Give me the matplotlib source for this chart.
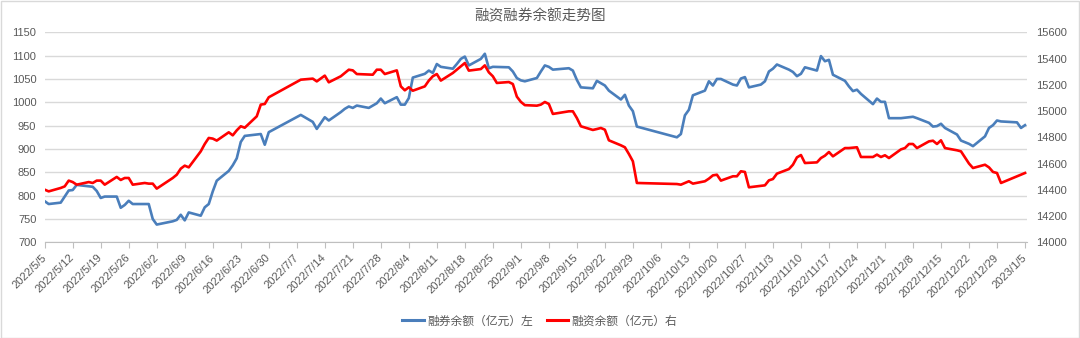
import matplotlib
matplotlib.use("Agg")
import matplotlib.pyplot as plt
import matplotlib.dates as mdates
from matplotlib.lines import Line2D
from matplotlib.patches import Rectangle
import pandas as pd

plt.rcParams['font.family'] = ['Liberation Sans', 'Noto Sans CJK SC', 'DejaVu Sans']

title = "融资融券余额走势图"
series_names = ["融券余额（亿元）左", "融资余额（亿元）右"]

# 融券余额 (left axis)
short_dates = [
    "2022-05-05", "2022-05-06", "2022-05-09", "2022-05-11", "2022-05-12", "2022-05-13",
    "2022-05-17", "2022-05-18", "2022-05-19", "2022-05-20", "2022-05-23", "2022-05-24",
    "2022-05-25", "2022-05-26", "2022-05-27", "2022-05-31", "2022-06-01", "2022-06-02",
    "2022-06-06", "2022-06-07", "2022-06-08", "2022-06-09", "2022-06-10", "2022-06-13",
    "2022-06-14", "2022-06-15", "2022-06-16", "2022-06-17", "2022-06-20", "2022-06-21",
    "2022-06-22", "2022-06-23", "2022-06-24", "2022-06-28", "2022-06-29", "2022-06-30",
    "2022-07-08", "2022-07-11", "2022-07-12", "2022-07-14", "2022-07-15", "2022-07-18",
    "2022-07-19", "2022-07-20", "2022-07-21", "2022-07-22", "2022-07-25", "2022-07-27",
    "2022-07-28", "2022-07-29", "2022-08-01", "2022-08-02", "2022-08-03", "2022-08-04",
    "2022-08-05", "2022-08-08", "2022-08-09", "2022-08-10", "2022-08-11", "2022-08-12",
    "2022-08-15", "2022-08-16", "2022-08-17", "2022-08-18", "2022-08-19", "2022-08-22",
    "2022-08-23", "2022-08-24", "2022-08-25", "2022-08-29", "2022-08-30", "2022-08-31",
    "2022-09-01", "2022-09-02", "2022-09-05", "2022-09-06", "2022-09-07", "2022-09-08",
    "2022-09-09", "2022-09-13", "2022-09-14", "2022-09-15", "2022-09-16", "2022-09-19",
    "2022-09-20", "2022-09-21", "2022-09-22", "2022-09-23", "2022-09-26", "2022-09-27",
    "2022-09-28", "2022-09-29", "2022-09-30", "2022-10-10", "2022-10-11", "2022-10-12",
    "2022-10-13", "2022-10-14", "2022-10-17", "2022-10-18", "2022-10-19", "2022-10-20",
    "2022-10-21", "2022-10-24", "2022-10-25", "2022-10-26", "2022-10-27", "2022-10-28",
    "2022-10-31", "2022-11-01", "2022-11-02", "2022-11-03", "2022-11-04", "2022-11-07",
    "2022-11-08", "2022-11-09", "2022-11-10", "2022-11-11", "2022-11-14", "2022-11-15",
    "2022-11-16", "2022-11-17", "2022-11-18", "2022-11-21", "2022-11-22", "2022-11-23",
    "2022-11-24", "2022-11-25", "2022-11-28", "2022-11-29", "2022-11-30", "2022-12-01",
    "2022-12-02", "2022-12-05", "2022-12-07", "2022-12-08", "2022-12-09", "2022-12-12",
    "2022-12-13", "2022-12-14", "2022-12-15", "2022-12-16", "2022-12-19", "2022-12-20",
    "2022-12-22", "2022-12-23", "2022-12-26", "2022-12-27", "2022-12-28", "2022-12-29",
    "2022-12-30", "2023-01-03", "2023-01-04", "2023-01-05",
]
short_values = [
    788, 782, 785, 811, 812, 823,
    819, 810, 795, 798, 798, 774,
    780, 789, 782, 782, 750, 738,
    745, 748, 759, 747, 764, 757,
    775, 782, 809, 832, 853, 865,
    880, 915, 928, 932, 909, 936,
    973, 958, 943, 968, 961, 979,
    986, 991, 988, 993, 988, 998,
    1008, 998, 1011, 995, 995, 1009,
    1053, 1061, 1068, 1063, 1082, 1076,
    1072, 1082, 1093, 1098, 1079, 1093,
    1104, 1073, 1076, 1075, 1066, 1052,
    1047, 1045, 1052, 1066, 1079, 1076,
    1070, 1073, 1068, 1048, 1032, 1030,
    1046, 1041, 1036, 1025, 1006, 1016,
    993, 981, 948, 925, 932, 972,
    984, 1015, 1025, 1045, 1036, 1050,
    1050, 1038, 1036, 1051, 1054, 1032,
    1038, 1045, 1066, 1072, 1081, 1070,
    1065, 1056, 1061, 1075, 1068, 1099,
    1088, 1091, 1059, 1046, 1034, 1024,
    1027, 1018, 996, 1008, 1001, 1001,
    966, 966, 968, 969, 966, 956,
    948, 949, 954, 945, 931, 918,
    911, 906, 927, 945, 951, 961,
    959, 957, 945, 951,
]

# 融资余额 (right axis)
margin_dates = [
    "2022-05-05", "2022-05-06", "2022-05-09", "2022-05-10", "2022-05-11", "2022-05-12",
    "2022-05-13", "2022-05-16", "2022-05-17", "2022-05-18", "2022-05-19", "2022-05-20",
    "2022-05-23", "2022-05-24", "2022-05-25", "2022-05-26", "2022-05-27", "2022-05-30",
    "2022-05-31", "2022-06-01", "2022-06-02", "2022-06-06", "2022-06-07", "2022-06-08",
    "2022-06-09", "2022-06-10", "2022-06-13", "2022-06-14", "2022-06-15", "2022-06-16",
    "2022-06-17", "2022-06-20", "2022-06-21", "2022-06-22", "2022-06-23", "2022-06-24",
    "2022-06-27", "2022-06-28", "2022-06-29", "2022-06-30", "2022-07-08", "2022-07-11",
    "2022-07-12", "2022-07-14", "2022-07-15", "2022-07-18", "2022-07-20", "2022-07-21",
    "2022-07-22", "2022-07-26", "2022-07-27", "2022-07-28", "2022-07-29", "2022-08-01",
    "2022-08-02", "2022-08-03", "2022-08-04", "2022-08-05", "2022-08-08", "2022-08-09",
    "2022-08-10", "2022-08-11", "2022-08-12", "2022-08-15", "2022-08-17", "2022-08-18",
    "2022-08-19", "2022-08-22", "2022-08-23", "2022-08-24", "2022-08-25", "2022-08-26",
    "2022-08-29", "2022-08-30", "2022-08-31", "2022-09-01", "2022-09-02", "2022-09-05",
    "2022-09-06", "2022-09-07", "2022-09-08", "2022-09-09", "2022-09-13", "2022-09-14",
    "2022-09-15", "2022-09-16", "2022-09-19", "2022-09-20", "2022-09-21", "2022-09-22",
    "2022-09-23", "2022-09-26", "2022-09-27", "2022-09-28", "2022-09-29", "2022-09-30",
    "2022-10-10", "2022-10-11", "2022-10-12", "2022-10-13", "2022-10-14", "2022-10-17",
    "2022-10-18", "2022-10-19", "2022-10-20", "2022-10-21", "2022-10-24", "2022-10-25",
    "2022-10-26", "2022-10-27", "2022-10-28", "2022-10-31", "2022-11-01", "2022-11-02",
    "2022-11-03", "2022-11-04", "2022-11-07", "2022-11-08", "2022-11-09", "2022-11-10",
    "2022-11-11", "2022-11-14", "2022-11-15", "2022-11-16", "2022-11-17", "2022-11-18",
    "2022-11-21", "2022-11-22", "2022-11-24", "2022-11-25", "2022-11-28", "2022-11-29",
    "2022-11-30", "2022-12-01", "2022-12-02", "2022-12-05", "2022-12-06", "2022-12-07",
    "2022-12-08", "2022-12-09", "2022-12-12", "2022-12-13", "2022-12-14", "2022-12-15",
    "2022-12-16", "2022-12-19", "2022-12-20", "2022-12-21", "2022-12-22", "2022-12-23",
    "2022-12-26", "2022-12-27", "2022-12-28", "2022-12-29", "2022-12-30", "2023-01-05",
]
margin_values = [
    14401, 14388, 14414, 14426, 14470, 14459,
    14439, 14459, 14452, 14470, 14470, 14439,
    14498, 14475, 14490, 14490, 14439, 14452,
    14447, 14447, 14409, 14490, 14515, 14561,
    14584, 14571, 14693, 14749, 14795, 14790,
    14775, 14838, 14815, 14853, 14884, 14873,
    14960, 15049, 15054, 15105, 15239, 15247,
    15226, 15270, 15219, 15265, 15315, 15310,
    15282, 15277, 15315, 15315, 15282, 15310,
    15188, 15158, 15181, 15155, 15188, 15232,
    15265, 15282, 15232, 15290, 15341, 15366,
    15308, 15320, 15348, 15295, 15265, 15214,
    15221, 15206, 15110, 15070, 15045, 15041,
    15049, 15069, 15054, 14978, 14998, 14998,
    14947, 14884, 14856, 14863, 14871, 14858,
    14777, 14739, 14724, 14673, 14617, 14452,
    14444, 14439, 14452, 14465, 14447, 14465,
    14485, 14510, 14515, 14470, 14503, 14503,
    14541, 14536, 14419, 14430, 14434, 14472,
    14482, 14523, 14558, 14591, 14647, 14665,
    14604, 14609, 14642, 14660, 14688, 14655,
    14718, 14718, 14724, 14650, 14650, 14668,
    14650, 14663, 14642, 14708, 14718, 14749,
    14749, 14718, 14769, 14774, 14749, 14777,
    14718, 14701, 14693, 14647, 14600, 14566,
    14591, 14571, 14536, 14528, 14452, 14528,
]

left_ticks = [700, 750, 800, 850, 900, 950, 1000, 1050, 1100, 1150]
right_ticks = [14000, 14200, 14400, 14600, 14800, 15000, 15200, 15400, 15600]
x_start, x_end = "2022-05-05", "2023-01-05"

blue = "#4A7EBB"
red = "#FF0000"
text_c = "#595959"
grid_c = "#D9D9D9"

W, H = 1080, 338
fig = plt.figure(figsize=(W / 100, H / 100), dpi=100)
fig.patch.set_facecolor("white")
fig.patches.append(Rectangle((0.5 / W, 0.5 / H), 1 - 1.5 / W, 1 - 1.5 / H,
                             transform=fig.transFigure, fill=False,
                             edgecolor="#D9D9D9", linewidth=1.0))

L, R, T, B = 44.7, 1027, 32.3, 242.3
ax = fig.add_axes([L / W, 1 - B / H, (R - L) / W, (B - T) / H])
ax2 = ax.twinx()

sd = pd.to_datetime(short_dates)
md = pd.to_datetime(margin_dates)
ax.plot(sd, short_values, color=blue, lw=1.9, solid_joinstyle="round", zorder=3)
ax2.plot(md, margin_values, color=red, lw=1.9, solid_joinstyle="round", zorder=3)

ax.set_ylim(700, 1150)
ax.set_yticks(left_ticks)
ax2.set_ylim(14000, 15600)
ax2.set_yticks(right_ticks)

ticks = pd.date_range(x_start, x_end, freq="7D")
ax.set_xlim(pd.Timestamp(x_start), pd.Timestamp(x_end) + pd.Timedelta(hours=12))
ax.set_xticks(ticks)
ax.set_xticklabels([f"{d.year}/{d.month}/{d.day}" for d in ticks],
                   rotation=45, ha="right", va="center", rotation_mode="anchor",
                   fontsize=8, color=text_c)

ax.grid(axis="y", color=grid_c, lw=1.0, zorder=0)
ax.set_axisbelow(True)
for a in (ax, ax2):
    for s in ("top", "left", "right"):
        a.spines[s].set_visible(False)
ax2.spines["bottom"].set_visible(False)
ax.spines["bottom"].set_color("#BFBFBF")
ax.tick_params(axis="x", length=4, color="#BFBFBF", pad=6)
ax.tick_params(axis="y", length=0, labelsize=8, labelcolor=text_c, pad=6)
ax2.tick_params(axis="y", length=0, labelsize=8, labelcolor=text_c, pad=6.5)

fig.text(0.5, 1 - 16 / H, title, ha="center", va="center", fontsize=10.5,
         color=text_c, family=["Noto Sans CJK SC", "DejaVu Sans"])

handles = [Line2D([], [], color=blue, lw=2.2), Line2D([], [], color=red, lw=2.2)]
leg = fig.legend(handles, series_names, loc="center", bbox_to_anchor=(0.5, 1 - 321 / H),
                 ncol=2, frameon=False, handlelength=1.8, handletextpad=0.3,
                 columnspacing=1.2, prop={"family": ["Noto Sans CJK SC", "DejaVu Sans"], "size": 8.5})
for t in leg.get_texts():
    t.set_color(text_c)

fig.savefig("out.png", dpi=100, facecolor="white")
